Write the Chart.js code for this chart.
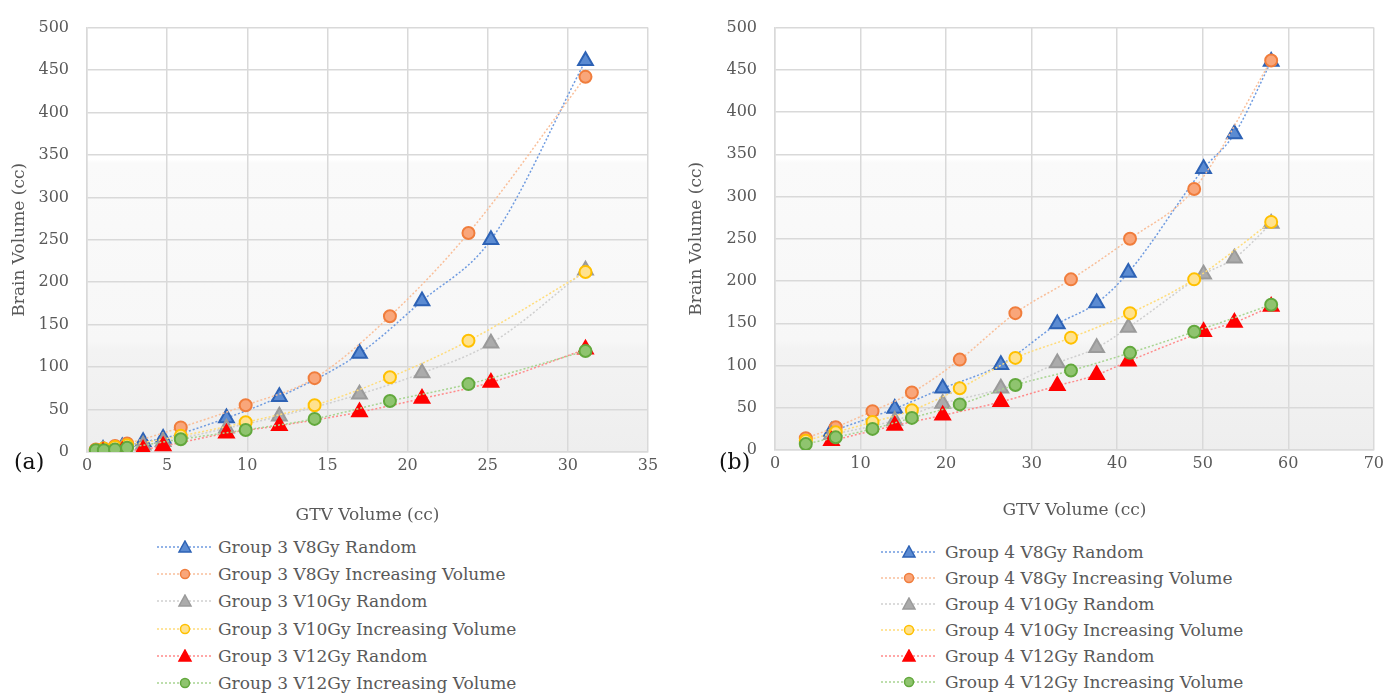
<!DOCTYPE html>
<html>
<head>
<meta charset="utf-8">
<script src="https://cdn.jsdelivr.net/npm/chart.js@4"></script>
<style>
  body { margin: 0; background: #fff; width: 1388px; height: 693px; overflow: hidden; position: relative;
         font-family: "DejaVu Serif", serif; color: #595959; }
  canvas { position: absolute; top: 0; }
  .tag { position: absolute; top: 449px; font-size: 22px; color: #111; }
  .row { position: absolute; height: 20px; line-height: 20px; font-size: 17px; white-space: nowrap; }
  .row svg { position: absolute; top: 3px; }
  .row span { position: absolute; top: 0; }
</style>
</head>
<body>
<canvas id="chartA" width="665" height="530" style="left:0px"></canvas>
<canvas id="chartB" width="708" height="530" style="left:680px"></canvas>
<div class="tag" style="left:14px">(a)</div>
<div class="tag" style="left:719px">(b)</div>
<div id="legendA"></div>
<div id="legendB"></div>
<script>
// Series names (legend order)
const seriesNames = ['V8Gy Random', 'V8Gy Increasing Volume', 'V10Gy Random',
                     'V10Gy Increasing Volume', 'V12Gy Random', 'V12Gy Increasing Volume'];

// Group 3 - GTV volume (cc)
const g3RandomX = [1.0, 2.2, 3.5, 4.75, 8.7, 12.0, 17.0, 20.9, 25.2, 31.1];
const g3IncX    = [0.55, 1.05, 1.75, 2.5, 5.85, 9.9, 14.2, 18.9, 23.8, 31.1];
// Group 3 - brain volume (cc)
const g3V8Random  = [3, 6, 12, 16, 40, 65, 116, 178, 250, 461];
const g3V8Inc     = [3, 4, 7, 10, 29, 55, 87, 160, 258, 442];
const g3V10Random = [2, 4, 8, 12, 28, 42, 68, 93, 128, 214];
const g3V10Inc    = [2, 4, 6, 8, 19, 35, 55, 88, 131, 212];
const g3V12Random = [0, 1, 3, 7, 22, 31, 47, 63, 82, 121];
const g3V12Inc    = [2, 2, 3, 5, 15, 26, 39, 60, 80, 119];

// Group 4 - GTV volume (cc)
const g4RandomX = [6.6, 14.0, 19.6, 26.4, 33.0, 37.6, 41.3, 50.1, 53.7, 58.0];
const g4IncX    = [3.6, 7.1, 11.4, 16.0, 21.6, 28.1, 34.6, 41.5, 49.0, 58.0];
// Group 4 - brain volume (cc)
const g4V8Random  = [22, 49, 73, 101, 149, 174, 210, 333, 374, 460];
const g4V8Inc     = [14, 27, 46, 68, 107, 162, 202, 250, 309, 461];
const g4V10Random = [18, 35, 55, 73, 103, 121, 145, 208, 227, 268];
const g4V10Inc    = [11, 21, 33, 47, 73, 109, 133, 162, 202, 270];
const g4V12Random = [11, 29, 41, 57, 76, 89, 105, 140, 151, 170];
const g4V12Inc    = [7, 15, 25, 38, 54, 77, 94, 115, 140, 172];

// look of each series
const styles = [
  { shape: 'triangle', fill: '#5b8bd2', border: '#2d62b5', line: '#6f9be0' },
  { shape: 'circle',   fill: '#f9a67a', border: '#f07d3c', line: '#f9bf9a' },
  { shape: 'triangle', fill: '#ababab', border: '#9a9a9a', line: '#cfcfcf' },
  { shape: 'circle',   fill: '#ffe28e', border: '#ffc000', line: '#ffdc7a' },
  { shape: 'triangle', fill: '#ff0000', border: '#ff0000', line: '#ff8a8a' },
  { shape: 'circle',   fill: '#8fc46f', border: '#62a83c', line: '#a8d491' }
];

const textColor = '#595959';
const gridColor = '#d9d9d9';

// shaded plot background like the office chart style
const plotShade = {
  id: 'plotShade',
  beforeDraw(chart) {
    const { ctx, chartArea: a } = chart;
    const g = ctx.createLinearGradient(0, a.top, 0, a.bottom);
    g.addColorStop(0, '#ffffff');
    g.addColorStop(0.31, '#ffffff');
    g.addColorStop(0.32, '#fafafa');
    g.addColorStop(0.74, '#f7f7f7');
    g.addColorStop(0.76, '#f3f3f3');
    g.addColorStop(1, '#eeeeee');
    ctx.save();
    ctx.fillStyle = g;
    ctx.fillRect(a.left, a.top, a.right - a.left, a.bottom - a.top);
    ctx.restore();
  }
};

function makeChart(id, randomX, incX, values, cfg) {
  const datasets = values.map((vals, i) => {
    const st = styles[i];
    const xs = st.shape === 'triangle' ? randomX : incX;
    return {
      label: seriesNames[i],
      data: xs.map((x, k) => ({ x: x, y: vals[k] })),
      showLine: true,
      borderColor: st.line,
      borderWidth: 1.5,
      borderDash: [2, 2],
      cubicInterpolationMode: 'monotone',
      pointStyle: st.shape,
      pointRadius: st.shape === 'triangle' ? 8.5 : 6,
      pointBackgroundColor: st.fill,
      pointBorderColor: st.border,
      pointBorderWidth: 2,
      order: values.length - i
    };
  });

  new Chart(document.getElementById(id), {
    type: 'scatter',
    data: { datasets: datasets },
    options: {
      responsive: false,
      animation: false,
      layout: { padding: { top: 24, right: cfg.rightPad, left: 0, bottom: 0 } },
      plugins: { legend: { display: false }, tooltip: { enabled: false } },
      scales: {
        x: {
          type: 'linear', min: 0, max: cfg.xMax,
          ticks: { stepSize: cfg.xStep, padding: 4, color: textColor,
                   font: { family: 'DejaVu Serif', size: 16 } },
          grid: { color: gridColor, lineWidth: 1.5, drawTicks: false },
          border: { color: gridColor, width: 1.5 },
          title: { display: true, text: 'GTV Volume (cc)', color: textColor,
                   font: { family: 'DejaVu Serif', size: 17 }, padding: { top: 0, bottom: cfg.xTitlePad } },
          afterFit: s => { s.height = 530 - cfg.plotBottom; }
        },
        y: {
          min: 0, max: 500,
          ticks: { stepSize: 50, padding: 18, color: textColor,
                   font: { family: 'DejaVu Serif', size: 16 } },
          grid: { color: gridColor, lineWidth: 1.5, drawTicks: false },
          border: { color: gridColor, width: 1.5 },
          title: { display: true, text: 'Brain Volume (cc)', color: textColor,
                   font: { family: 'DejaVu Serif', size: 17 }, padding: { top: cfg.yTitlePad, bottom: 0 } },
          afterFit: s => { s.width = cfg.yWidth; }
        }
      }
    },
    plugins: [plotShade]
  });
}

makeChart('chartA', g3RandomX, g3IncX,
  [g3V8Random, g3V8Inc, g3V10Random, g3V10Inc, g3V12Random, g3V12Inc],
  { xMax: 35, xStep: 5, yWidth: 87, rightPad: 17, plotBottom: 452, yTitlePad: 9, xTitlePad: 4 });

makeChart('chartB', g4RandomX, g4IncX,
  [g4V8Random, g4V8Inc, g4V10Random, g4V10Inc, g4V12Random, g4V12Inc],
  { xMax: 70, xStep: 10, yWidth: 95, rightPad: 11, plotBottom: 450, yTitlePad: 6, xTitlePad: 9 });

// legends drawn as html rows with a small svg sample of line + marker
function markerSvg(st) {
  let mark;
  if (st.shape === 'triangle') {
    mark = `<polygon points="28,1 34,12 22,12" fill="${st.fill}" stroke="${st.border}" stroke-width="1.5"/>`;
  } else {
    mark = `<circle cx="28" cy="7" r="4.5" fill="${st.fill}" stroke="${st.border}" stroke-width="1.5"/>`;
  }
  return `<svg width="56" height="14"><line x1="0" y1="7" x2="56" y2="7" stroke="${st.line}" stroke-width="1.5" stroke-dasharray="2,2"/>${mark}</svg>`;
}

function makeLegend(id, group, left, top, rowGap, lineW, textGap) {
  const box = document.getElementById(id);
  seriesNames.forEach((name, i) => {
    const row = document.createElement('div');
    row.className = 'row';
    row.style.left = left + 'px';
    row.style.top = (top + i * rowGap) + 'px';
    row.innerHTML = markerSvg(styles[i]) + `<span style="left:${lineW + textGap}px">Group ${group} ${name}</span>`;
    box.appendChild(row);
  });
}

makeLegend('legendA', 3, 157, 537, 27.2, 56, 5);
makeLegend('legendB', 4, 881, 542, 26, 56, 8);
</script>
</body>
</html>
